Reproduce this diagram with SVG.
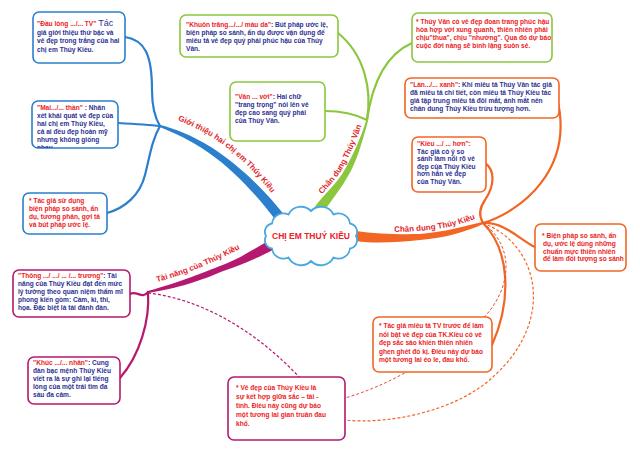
<svg xmlns="http://www.w3.org/2000/svg" width="640" height="455" viewBox="0 0 640 455">
<defs>
<style>
.t{font-family:"Liberation Sans",Arial,sans-serif;font-weight:bold;font-size:6.6px;fill:#2e3192}
.r{fill:#ed1c24}
.box{fill:#fff;stroke-width:1.6}
.bb{stroke:#2b7fcc}.gb{stroke:#8cc63f}.ob{stroke:#f26522}.mb{stroke:#b5186f}
.lf{fill:none;stroke-width:2.2;stroke-linecap:round}
.lbl{font-family:"Liberation Sans",Arial,sans-serif;font-weight:bold;font-size:8px;fill:#e3252b}
</style>
<clipPath id="c2"><rect x="32" y="101" width="86" height="47" rx="6"/></clipPath>
<path id="pb" d="M167,117 C182,121 197,128 215,139 C242,157 264,182 278,202"/>
<path id="pg" d="M311.8,206.7 C321,194 335,182 343.2,167.4 C351,153 357.6,137 363.6,120"/>
<path id="po" d="M385,232 C405,232 425,231 440,228.5 C455,226 468,222 480,217"/>
<path id="pm" d="M152,283 C175,278 195,270 215,261 C230,254 240,249 252,242"/>
</defs>
<rect width="640" height="455" fill="#fff"/>
<g id="connectors">
<!-- blue -->
<path d="M285,216 C269,195 242,167 211.7,147.5 C191,134.5 175.4,129 160.4,124.9 L159.6,127.1 C174.6,133 189,139.5 208.3,152.5 C238,173 261,201 277,222 Z" fill="#2b7fcc"/>
<path class="lf" stroke="#2b7fcc" d="M125,37 C145,40 152,55 152,90 C152,105 155,118 160,126"/>
<path class="lf" stroke="#2b7fcc" d="M118,123 C135,124 150,125 160,126"/>
<path class="lf" stroke="#2b7fcc" d="M107,213 C125,208 140,195 145,175 C150,155 152,140 160,126"/>
<!-- green -->
<path d="M313.9,208.2 C323,195 337.4,183.6 345.4,168.6 C353.4,153.6 361,137.7 366,120.7 L368,121.3 C363,138.3 358.6,156.4 350.6,171.4 C342.6,186.4 331,201 322.1,213.9 Z" fill="#8cc63f"/>
<path class="lf" stroke="#8cc63f" d="M325,111 C345,111 357,115 367,120"/>
<path class="lf" stroke="#8cc63f" d="M367,120 C372,90 365,55 338,33"/>
<path class="lf" stroke="#8cc63f" d="M367,120 C372,85 385,55 412,43"/>
<!-- orange -->
<path d="M356,231 C375,234 400,234.5 420,234 C445,232 465,226 482.7,222 L483.3,224 C465,232 445,238 420,240 C400,242 375,244 356,241 Z" fill="#f26522"/>
<path class="lf" stroke="#f26522" d="M483,223 C520,212 575,170 557,98"/>
<path class="lf" stroke="#f26522" d="M485,163 C495,170 495,185 485,200 C478,210 480,218 483,223"/>
<path class="lf" stroke="#f26522" d="M483,223 C505,222 520,240 535,247"/>
<path class="lf" stroke="#f26522" d="M483,223 C510,250 512,300 492,345"/>
<path fill="none" stroke="#f26522" stroke-width="1.2" stroke-dasharray="3,2" d="M483,223 C540,245 555,320 495,375 C460,410 390,425 345,420"/>
<path fill="none" stroke="#e0503a" stroke-width="1" stroke-dasharray="3,2" d="M483,223 C520,250 510,300 470,330 C430,360 390,385 345,398"/>
<!-- magenta -->
<path d="M270.5,239.6 C253,249.5 239,259 222,265.2 C204,272 184,281 147.8,291 L148.2,293 C186,287 206,278 224,270.8 C241,265 257,258.5 275.5,248.4 Z" fill="#b5186f"/>
<path class="lf" stroke="#b5186f" d="M130,294 C137,290 142,300 148,292"/>
<path class="lf" stroke="#b5186f" d="M148,292 C150,320 140,355 120,378"/>
<path fill="none" stroke="#b5186f" stroke-width="1.2" stroke-dasharray="3,2" d="M148,293 C210,300 265,340 300,378"/>
</g>

<g id="branch-labels">
<text class="lbl" text-anchor="middle"><textPath href="#pb" startOffset="50%">Giới thiệu hai chị em Thúy Kiều</textPath></text>
<text class="lbl" text-anchor="middle"><textPath href="#pg" startOffset="55%">Chân dung Thúy Vân</textPath></text>
<text class="lbl" text-anchor="middle"><textPath href="#po" startOffset="52%">Chân dung Thúy Kiều</textPath></text>
<text class="lbl" text-anchor="middle"><textPath href="#pm" startOffset="46%">Tài năng của Thúy Kiều</textPath></text>
</g>

<g id="center">
<path d="M356,236 A8.5,8.5 0 0 1 350,248.5 A11.6,11.6 0 0 1 333.5,257.5 A14,14 0 0 1 311,261 A14,14 0 0 1 288.5,257.5 A11.6,11.6 0 0 1 272,248.5 A8.5,8.5 0 0 1 266,236 A8.5,8.5 0 0 1 272,223.5 A11.6,11.6 0 0 1 288.5,214.5 A14,14 0 0 1 311,211 A14,14 0 0 1 333.5,214.5 A11.6,11.6 0 0 1 350,223.5 A8.5,8.5 0 0 1 356,236 Z" fill="#fff" stroke="#4aa8e0" stroke-width="1.8"/>
<text x="311" y="239" text-anchor="middle" style="font-family:'Liberation Sans',Arial,sans-serif;font-weight:bold;font-size:8.5px;fill:#e8232a">CHỊ EM THUÝ KIỀU</text>
</g>

<g id="n1">
<rect class="box bb" x="33" y="12" width="92" height="51" rx="6"/>
<text class="t" x="37" y="26"><tspan class="r">"Đầu lòng .../... TV"</tspan> <tspan style="font-size:9px;font-weight:normal">Tác</tspan></text>
<text class="t" x="37" y="34.5">giả giới thiệu thứ bậc và</text>
<text class="t" x="37" y="43">vẻ đẹp trong trắng của hai</text>
<text class="t" x="37" y="51.5">chị em Thúy Kiều.</text>
</g>

<g id="n2">
<rect class="box bb" x="32" y="101" width="86" height="47" rx="6"/>
<g clip-path="url(#c2)">
<text class="t" x="37" y="110"><tspan class="r">"Mai.../... thần"</tspan> : Nhân</text>
<text class="t" x="37" y="118">xét khái quát vẻ đẹp của</text>
<text class="t" x="37" y="126">hai chị em Thúy Kiều,</text>
<text class="t" x="37" y="134">cả ai đều đẹp hoàn mỹ</text>
<text class="t" x="37" y="142">nhưng không giống</text>
<text class="t" x="37" y="150">nhau.</text>
</g>
</g>

<g id="n3">
<rect class="box bb" x="23" y="193" width="84" height="41" rx="6"/>
<text class="t r" x="29" y="203">* Tác giả sử dụng</text>
<text class="t r" x="29" y="211">biện pháp so sánh, ẩn</text>
<text class="t r" x="29" y="219">dụ, tương phản, gợi tả</text>
<text class="t r" x="29" y="227">và bút pháp ước lệ.</text>
</g>

<g id="n4">
<rect class="box gb" x="180" y="15" width="158" height="42" rx="6"/>
<text class="t" x="186" y="27"><tspan class="r">"Khuôn trăng.../.../ màu da"</tspan>: Bút pháp ước lệ,</text>
<text class="t" x="186" y="35">biện pháp so sánh, ẩn dụ được vận dụng để</text>
<text class="t" x="186" y="43">miêu tả vẻ đẹp quý phái phúc hậu của Thúy</text>
<text class="t" x="186" y="51">Vân.</text>
</g>

<g id="n5">
<rect class="box gb" x="230" y="82" width="95" height="59" rx="6"/>
<text class="t" x="235" y="99"><tspan class="r">"Vân ... vời"</tspan>: Hai chữ</text>
<text class="t" x="235" y="107">"trang trọng" nói lên vẻ</text>
<text class="t" x="235" y="115">đẹp cao sang quý phái</text>
<text class="t" x="235" y="123">của Thúy Vân.</text>
</g>

<g id="n6">
<rect class="box gb" x="412" y="13" width="140" height="49" rx="6"/>
<text class="t r" x="416" y="24">* Thúy Vân có vẻ đẹp đoan trang phúc hậu</text>
<text class="t r" x="416" y="32">hòa hợp với xung quanh, thiên nhiên phải</text>
<text class="t r" x="416" y="40">chịu"thua", chịu "nhường". Qua đó dự báo</text>
<text class="t r" x="416" y="48">cuộc đời nàng sẽ bình lặng suôn sẻ.</text>
</g>

<g id="n7">
<rect class="box ob" x="405" y="78" width="154" height="40" rx="6"/>
<text class="t" x="410" y="87"><tspan class="r">"Làn.../... xanh"</tspan>: Khi miêu tả Thúy Vân tác giả</text>
<text class="t" x="410" y="95">đã miêu tả chi tiết, còn miêu tả Thúy Kiều tác</text>
<text class="t" x="410" y="103">giả tập trung miêu tả đôi mắt, ánh mắt nên</text>
<text class="t" x="410" y="111">chân dung Thúy Kiều trừu tượng hơn.</text>
</g>

<g id="n8">
<rect class="box ob" x="412" y="137" width="74" height="55" rx="6"/>
<text class="t r" x="417" y="146">"Kiều .../ ... hơn":</text>
<text class="t" x="417" y="153.5">Tác giả có ý so</text>
<text class="t" x="417" y="161">sánh làm nổi rõ vẻ</text>
<text class="t" x="417" y="168.5">đẹp của Thúy Kiều</text>
<text class="t" x="417" y="176">hơn hẳn vẻ đẹp</text>
<text class="t" x="417" y="183.5">của Thúy Vân.</text>
</g>

<g id="n9">
<rect class="box ob" x="535" y="224" width="91" height="47" rx="6"/>
<text class="t r" x="542" y="238">* Biện pháp so sánh, ẩn</text>
<text class="t r" x="543" y="246">dụ, ước lệ dùng những</text>
<text class="t r" x="543" y="253.5">chuẩn mực thiên nhiên</text>
<text class="t r" x="543" y="261">để làm đối tượng so sánh</text>
</g>

<g id="n10">
<rect class="box ob" x="373" y="317" width="119" height="55" rx="6"/>
<text class="t r" x="379" y="328">* Tác giả miêu tả TV trước để làm</text>
<text class="t r" x="379" y="336.5">nổi bật vẻ đẹp của TK.Kiều có vẻ</text>
<text class="t r" x="379" y="345">đẹp sắc sảo khiến thiên nhiên</text>
<text class="t r" x="379" y="353.5">ghen ghét đố kị. Điều này dự báo</text>
<text class="t r" x="379" y="362">một tương lai éo le, đau khổ.</text>
</g>

<g id="n11">
<rect class="box mb" x="13" y="270" width="117" height="47" rx="6"/>
<text class="t" x="18" y="278"><tspan class="r">"Thông .../ .../ ... /... trương"</tspan>: Tài</text>
<text class="t" x="18" y="286">năng của Thúy Kiều đạt đến mức</text>
<text class="t" x="18" y="294">lý tưởng theo quan niệm thẩm mĩ</text>
<text class="t" x="18" y="302">phong kiến gồm: Cầm, kì, thi,</text>
<text class="t" x="18" y="310">họa. Đặc biệt là tài đánh đàn.</text>
</g>

<g id="n12">
<rect class="box mb" x="28" y="357" width="92" height="47" rx="6"/>
<text class="t" x="33" y="365"><tspan class="r">"Khúc .../... nhân"</tspan>: Cung</text>
<text class="t" x="33" y="373">đàn bạc mệnh Thúy Kiều</text>
<text class="t" x="33" y="381">viết ra là sự ghi lại tiếng</text>
<text class="t" x="33" y="389">lòng của một trái tim đa</text>
<text class="t" x="33" y="397">sầu đa cảm.</text>
</g>

<g id="n13">
<rect class="box mb" x="228" y="377" width="117" height="63" rx="6"/>
<text class="t r" x="236" y="390">* Vẻ đẹp của Thúy Kiều là</text>
<text class="t r" x="236" y="399">sự kết hợp giữa sắc – tài -</text>
<text class="t r" x="236" y="408">tình. Điều này cũng dự báo</text>
<text class="t r" x="236" y="417">một tương lai gian truân đau</text>
<text class="t r" x="236" y="426">khổ.</text>
</g>
</svg>
